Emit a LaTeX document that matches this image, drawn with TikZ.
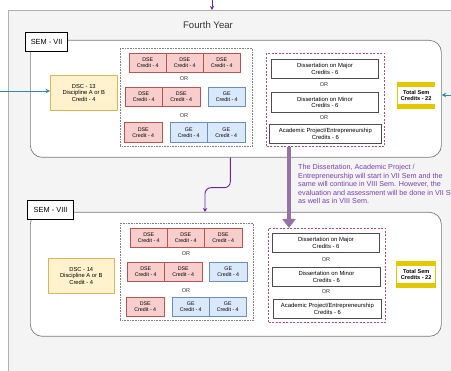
\documentclass[tikz,border=0pt]{standalone}
\usepackage{fontspec}
\setmainfont{Liberation Sans}
\usetikzlibrary{arrows.meta,calc}
\definecolor{contF}{HTML}{F4F4F4}
\definecolor{contS}{HTML}{B0B0B0}
\definecolor{semS}{HTML}{7A7A7A}
\definecolor{dseF}{HTML}{F8CECC}
\definecolor{dseS}{HTML}{B85450}
\definecolor{geF}{HTML}{DAE8FC}
\definecolor{geS}{HTML}{6C8EBF}
\definecolor{dscF}{HTML}{FFF2CC}
\definecolor{dscS}{HTML}{D6B656}
\definecolor{totY}{HTML}{E3C800}
\definecolor{grpS}{HTML}{A64D79}
\definecolor{thickP}{HTML}{9673A6}
\definecolor{thinP}{HTML}{6A22B0}
\definecolor{txtP}{HTML}{7A3DB0}
\definecolor{teal}{HTML}{2E8BA5}
\begin{document}
\begin{tikzpicture}[x=1pt,y=-1pt,
  box/.style={anchor=north west, inner sep=0pt, align=center},
  tinyfont/.style={font=\fontsize{5.3}{6.2}\selectfont},
  dse/.style={box, tinyfont, draw=dseS, fill=dseF, line width=0.6pt},
  ge/.style={box, tinyfont, draw=geS, fill=geF, line width=0.6pt},
  dsc/.style={box, font=\fontsize{5.8}{6.6}\selectfont, draw=dscS, fill=dscF, line width=0.6pt},
  orlbl/.style={inner sep=0pt, font=\fontsize{5.6}{6}\selectfont, text=black!80},
  grp/.style={anchor=north west, draw=gray, densely dotted, line width=0.6pt},
  rgrp/.style={anchor=north west, draw=grpS, dash pattern=on 2pt off 1.5pt, line width=1pt},
  diss/.style={box, font=\fontsize{5.9}{6.8}\selectfont, draw=black!70, fill=white, line width=0.8pt},
  sembox/.style={anchor=north west, draw=semS, fill=white, rounded corners=12pt, line width=0.7pt},
  semlbl/.style={box, draw=black, fill=white, line width=1.2pt, font=\fontsize{7.4}{8}\selectfont},
  tot/.style={anchor=north west, fill=totY, inner sep=0pt},
  totin/.style={fill=white, inner sep=0pt, align=center, font=\bfseries\fontsize{5.6}{6.6}\selectfont},
]
\useasboundingbox (0,0) rectangle (451,371);
% container
\fill[contF] (8,10) rectangle (460,380);
\draw[contS, line width=0.8pt] (8,380) -- (8,10) -- (460,10);
\node[font=\fontsize{9.6}{11}\selectfont, text=black!80] (fy) at (208,25) {Fourth Year};
\coordinate (topin) at (212,-2);
\draw[thinP, line width=0.9pt, -{Stealth[length=4pt,width=4pt]}] (topin) -- (topin |- 0,10);

% ===== SEM VII =====
\node[sembox, minimum width=411pt, minimum height=117pt] (sem7) at (30,40) {};
\node[semlbl, minimum width=42pt, minimum height=19pt] (lab7) at (25,32) {SEM - VII};
\node[dsc, minimum width=67pt, minimum height=35pt] (dsc13) at (50,75) {DSC - 13\\Discipline A or B\\Credit - 4};
\node[grp, minimum width=132pt, minimum height=98pt] (grp7) at (120,48) {};
\node[dse, minimum width=37pt, minimum height=19pt] (a1) at (129,53) {DSE\\Credit - 4};
\node[dse, minimum width=37pt, minimum height=19pt] (a2) at (166,53) {DSE\\Credit - 4};
\node[dse, minimum width=37pt, minimum height=19pt] (a3) at (203,53) {DSE\\Credit - 4};
\node[orlbl] (or1) at (184,79) {OR};
\node[dse, minimum width=37pt, minimum height=19pt] (b1) at (125,87) {DSE\\Credit - 4};
\node[dse, minimum width=38pt, minimum height=19pt] (b2) at (162,87) {DSE\\Credit - 4};
\node[ge, minimum width=37pt, minimum height=19pt] (b3) at (208,87) {GE\\Credit - 4};
\node[orlbl] (or2) at (184,116) {OR};
\node[dse, minimum width=38pt, minimum height=20pt] (c1) at (124,122) {DSE\\Credit - 4};
\node[ge, minimum width=37pt, minimum height=20pt] (c2) at (170,122) {GE\\Credit - 4};
\node[ge, minimum width=38pt, minimum height=20pt] (c3) at (207,122) {GE\\Credit - 4};
\node[rgrp, minimum width=118pt, minimum height=93pt] (rg7) at (266,53) {};
\node[diss, minimum width=107pt, minimum height=19pt] (dm7) at (271,59) {Dissertation on Major\\Credits - 6};
\node[orlbl] (or3) at (324,85) {OR};
\node[diss, minimum width=107pt, minimum height=20pt] (dn7) at (271,92) {Dissertation on Minor\\Credits - 6};
\node[orlbl] (or4) at (324,118) {OR};
\node[diss, minimum width=112pt, minimum height=19pt] (ap7) at (269,124) {Academic Project/Entrepreneurship\\Credits - 6};
\node[tot, minimum width=38pt, minimum height=27pt] (tot7) at (397,82) {};
\node[totin, minimum width=37pt, minimum height=17pt] (tt7) at (tot7.center) {Total Sem\\Credits - 22};
\coordinate (lin) at (-2,91);
\draw[teal, line width=0.9pt, -{Stealth[length=4.5pt,width=4.5pt]}] (lin) -- (lin -| dsc13.west);
\coordinate (rin) at (453,95);
\draw[teal, line width=0.9pt, -{Stealth[length=4.5pt,width=4.5pt]}] (rin) -- (rin -| sem7.east);

% ===== SEM VIII =====
\node[sembox, minimum width=411pt, minimum height=124pt] (sem8) at (30,212) {};
\node[semlbl, minimum width=46pt, minimum height=19pt] (lab8) at (27,200) {SEM - VIII};
\node[dsc, minimum width=66pt, minimum height=35pt] (dsc14) at (48,258) {DSC - 14\\Discipline A or B\\Credit - 4};
\node[grp, minimum width=133pt, minimum height=97pt] (grp8) at (120,223) {};
\node[dse, minimum width=37pt, minimum height=19pt] (d1) at (130,228) {DSE\\Credit - 4};
\node[dse, minimum width=37pt, minimum height=19pt] (d2) at (167,228) {DSE\\Credit - 4};
\node[dse, minimum width=38pt, minimum height=19pt] (d3) at (204,228) {DSE\\Credit - 4};
\node[orlbl] (or5) at (186,254) {OR};
\node[dse, minimum width=37pt, minimum height=19pt] (e1) at (127,262) {DSE\\Credit - 4};
\node[dse, minimum width=38pt, minimum height=19pt] (e2) at (164,262) {DSE\\Credit - 4};
\node[ge, minimum width=38pt, minimum height=19pt] (e3) at (209,262) {GE\\Credit - 4};
\node[orlbl] (or6) at (186,291) {OR};
\node[dse, minimum width=38pt, minimum height=19pt] (f1) at (126,297) {DSE\\Credit - 4};
\node[ge, minimum width=37pt, minimum height=19pt] (f2) at (172,297) {GE\\Credit - 4};
\node[ge, minimum width=37pt, minimum height=19pt] (f3) at (209,297) {GE\\Credit - 4};
\node[rgrp, minimum width=117pt, minimum height=94pt] (rg8) at (268,228) {};
\node[diss, minimum width=107pt, minimum height=19pt] (dm8) at (272,233) {Dissertation on Major\\Credits - 6};
\node[orlbl] (or7) at (326,260) {OR};
\node[diss, minimum width=108pt, minimum height=19pt] (dn8) at (272,267) {Dissertation on Minor\\Credits - 6};
\node[orlbl] (or8) at (326,292) {OR};
\node[diss, minimum width=108pt, minimum height=19pt] (ap8) at (273,299) {Academic Project/Entrepreneurship\\Credits - 6};
\node[tot, minimum width=40pt, minimum height=27pt] (tot8) at (396,261) {};
\node[totin, minimum width=38pt, minimum height=17pt] (tt8) at (tot8.center) {Total Sem\\Credits - 22};

% ===== connectors =====
\coordinate (s7o) at ([xshift=-5.5pt]sem7.south);
\coordinate (s8i) at (205,212);
\draw[thinP, line width=0.9pt, rounded corners=6pt, -{Stealth[length=4pt,width=4pt]}]
  (s7o) -- ($(s7o)+(0,30)$) -| (s8i);
\coordinate (th7) at ([xshift=23pt]rg7.south west);
\draw[thickP, line width=3.6pt, -{Triangle[length=9pt,width=13pt]}] (th7) -- (th7 |- rg8.north);
\node[anchor=north west, inner sep=0pt, align=left, text=txtP,
  font=\fontsize{7.2}{8.6}\selectfont] (note) at (298,164)
  {The Dissertation, Academic Project /\\Entrepreneurship will start in VII Sem and the\\same will continue in VIII Sem. However, the\\evaluation and assessment will be done in VII Sem\\as well as in VIII Sem.};
\end{tikzpicture}
\end{document}
